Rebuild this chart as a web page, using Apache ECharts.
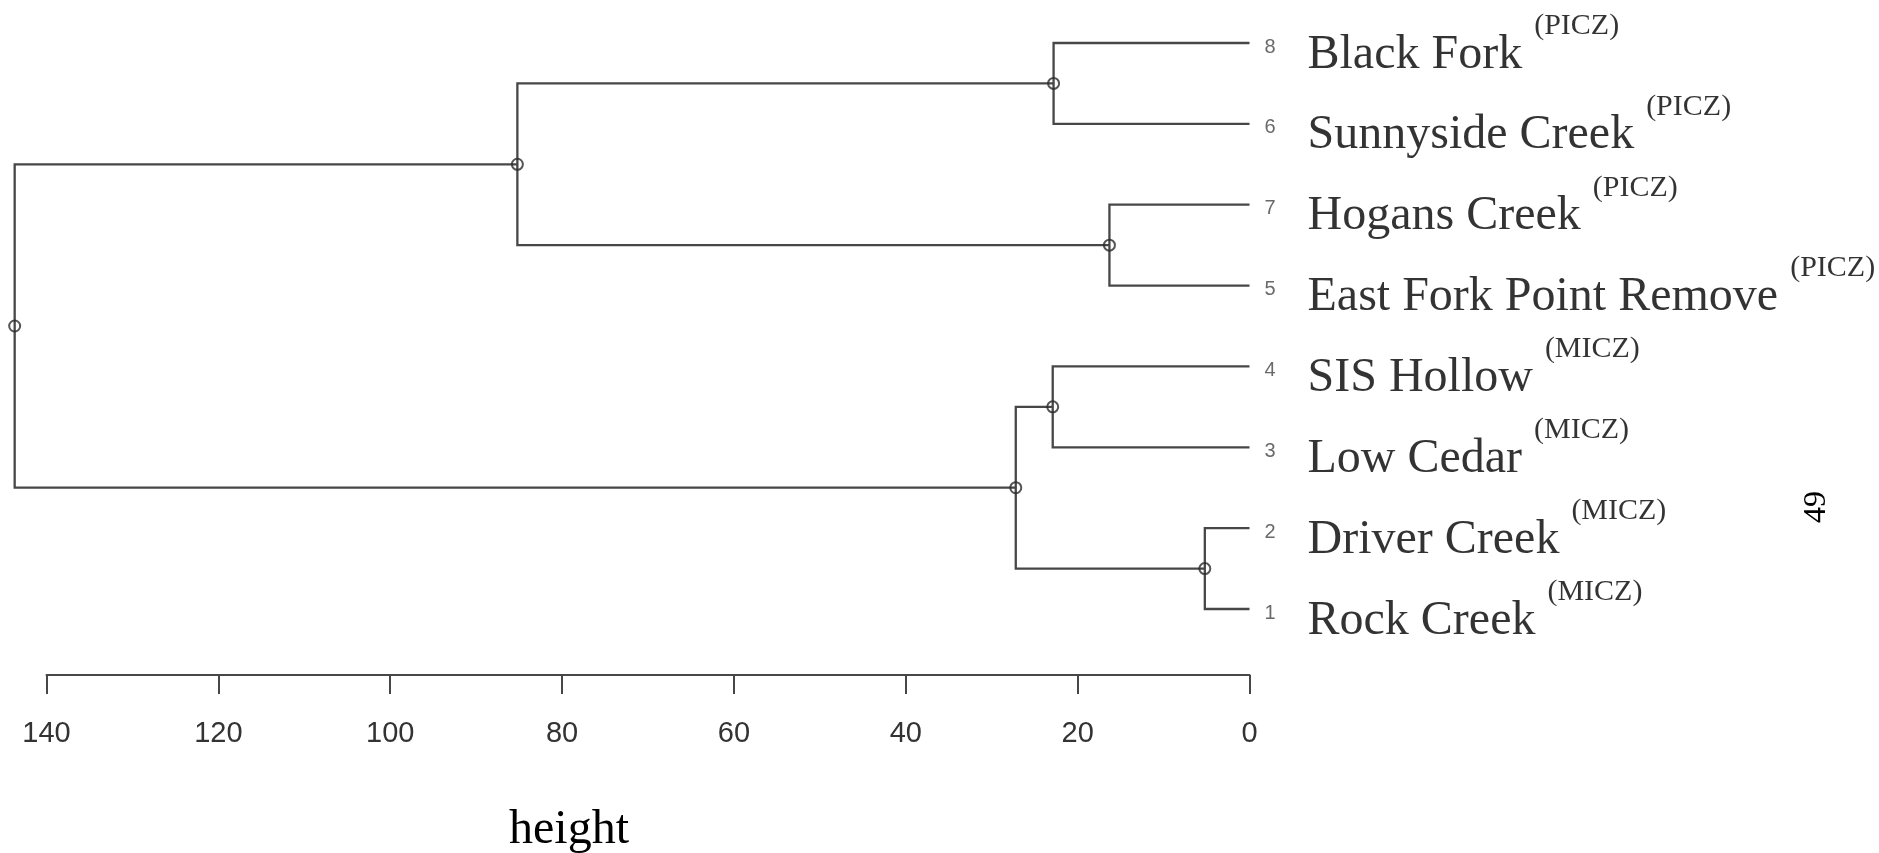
<!DOCTYPE html>
<html>
<head>
<meta charset="utf-8">
<script src="https://cdn.jsdelivr.net/npm/echarts@6/dist/echarts.min.js"></script>
<style>
  html, body { margin: 0; padding: 0; background: #fff; }
  #root { width: 1879px; height: 853px; }
</style>
</head>
<body>
<div id="root"></div>
<script>
// leaves from top to bottom, as drawn
const leafIds = [8, 6, 7, 5, 4, 3, 2, 1];
const leafNames = ['Black Fork', 'Sunnyside Creek', 'Hogans Creek', 'East Fork Point Remove',
  'SIS Hollow', 'Low Cedar', 'Driver Creek', 'Rock Creek'];
const leafZones = ['PICZ', 'PICZ', 'PICZ', 'PICZ', 'MICZ', 'MICZ', 'MICZ', 'MICZ'];

// hclust style merges: negative = leaf id, positive = earlier merge (1-based)
const mergeLeft = [-1, -5, -6, -3, 4, 3, 6];
const mergeRight = [-2, -7, -8, -4, 1, 2, 5];
const mergeHeight = [5.2, 16.3, 22.8, 22.9, 27.2, 85.2, 143.7];

const axisTicks = [0, 20, 40, 60, 80, 100, 120, 140];

const LINE = '#474747';

const leafY = id => leafIds.length - leafIds.indexOf(-id);
const nodeY = [];
const childPos = ref => (ref < 0 ? [0, leafY(ref)] : [mergeHeight[ref - 1], nodeY[ref - 1]]);
mergeHeight.forEach((h, i) => {
  nodeY.push((childPos(mergeLeft[i])[1] + childPos(mergeRight[i])[1]) / 2);
});

const bracketData = mergeHeight.map((h, i) => [h, nodeY[i], i]);
const leafData = leafIds.map((id, i) => [0, leafIds.length - i, i]);

const container = document.getElementById('root');
const myChart = echarts.init(container);

const option = {
  animation: false,
  backgroundColor: '#fff',
  title: {
    text: 'height',
    left: 504,
    top: 801,
    textStyle: {
      fontFamily: 'Liberation Serif',
      fontSize: 48,
      lineHeight: 48,
      fontWeight: 'normal',
      color: '#000'
    }
  },
  graphic: [{
    type: 'text',
    x: 1817,
    y: 507,
    rotation: Math.PI / 2,
    style: {
      text: '49',
      font: '32px "Liberation Serif"',
      fill: '#000',
      align: 'center',
      verticalAlign: 'middle'
    }
  }],
  grid: [
    { left: 3.5, width: 1246, top: 2.57, height: 646.86 },
    { left: 46.5, width: 1203, top: 600, height: 75 }
  ],
  xAxis: [{
    gridIndex: 0,
    type: 'value',
    min: 0,
    max: 145,
    inverse: true,
    show: false
  }, {
    gridIndex: 1,
    type: 'value',
    min: 0,
    max: 140,
    interval: 20,
    inverse: true,
    axisLine: { lineStyle: { color: LINE, width: 2 } },
    axisTick: { length: 19, lineStyle: { color: LINE, width: 2 } },
    axisLabel: {
      margin: 44,
      fontFamily: 'Liberation Sans',
      fontSize: 29,
      color: '#333',
      formatter: v => (axisTicks.includes(v) ? String(v) : '')
    },
    splitLine: { show: false }
  }],
  yAxis: [{
    gridIndex: 0,
    type: 'value',
    min: 0.5,
    max: 8.5,
    show: false
  }, {
    gridIndex: 1,
    type: 'value',
    show: false
  }],
  series: [{
    type: 'custom',
    xAxisIndex: 0,
    yAxisIndex: 0,
    data: bracketData,
    renderItem: (params, api) => {
      const i = api.value(2);
      const h = api.value(0);
      const a = childPos(mergeLeft[i]);
      const b = childPos(mergeRight[i]);
      const pts = [
        api.coord([a[0], a[1]]),
        api.coord([h, a[1]]),
        api.coord([h, b[1]]),
        api.coord([b[0], b[1]])
      ];
      return {
        type: 'polyline',
        shape: { points: pts },
        style: { stroke: LINE, lineWidth: 2.3, fill: null }
      };
    }
  }, {
    type: 'scatter',
    xAxisIndex: 0,
    yAxisIndex: 0,
    data: bracketData,
    symbol: 'circle',
    symbolSize: 11,
    z: 5,
    itemStyle: { color: 'rgba(0,0,0,0)', borderColor: '#2a2a2a', borderWidth: 2 }
  }, {
    type: 'scatter',
    xAxisIndex: 0,
    yAxisIndex: 0,
    data: leafData,
    symbolSize: 0,
    label: {
      show: true,
      position: 'right',
      distance: 15,
      offset: [0, 4],
      fontFamily: 'Liberation Sans',
      fontSize: 20,
      color: '#444',
      formatter: p => String(leafIds[p.value[2]])
    }
  }, {
    type: 'scatter',
    xAxisIndex: 0,
    yAxisIndex: 0,
    data: leafData,
    symbolSize: 0,
    label: {
      show: true,
      position: 'right',
      distance: 58,
      offset: [0, 2],
      formatter: p => `{n|${leafNames[p.value[2]]} }{s|(${leafZones[p.value[2]]})}`,
      rich: {
        n: {
          fontFamily: 'Liberation Serif',
          fontSize: 48,
          lineHeight: 68,
          verticalAlign: 'bottom',
          color: '#000'
        },
        s: {
          fontFamily: 'Liberation Serif',
          fontSize: 30,
          lineHeight: 30,
          verticalAlign: 'top',
          color: '#000'
        }
      }
    }
  }]
};

myChart.setOption(option);

window.onresize = () => myChart.resize();
</script>
</body>
</html>
